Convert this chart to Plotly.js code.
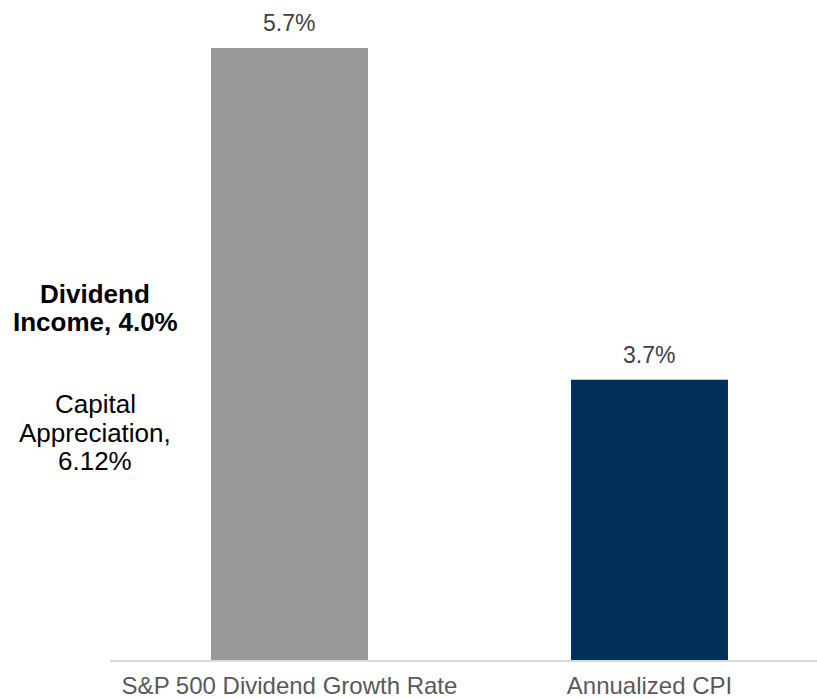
<!DOCTYPE html>
<html>
<head>
<meta charset="utf-8">
<script src="https://cdn.plot.ly/plotly-3.0.1.min.js"></script>
<style>
  html, body { margin: 0; padding: 0; background: #ffffff; }
  #chart { width: 817px; height: 698px; }
</style>
</head>
<body>
<div id="chart"></div>
<script>
// ---- data ----
const categories = ["S&P 500 Dividend Growth Rate", "Annualized CPI"];
const values = [5.7, 3.7];
const barColors = ["#98999b", "#00305a"];
const boldNoteLines = ["Dividend", "Income, 4.0%"];
const noteLines = ["Capital", "Appreciation,", "6.12%"];

// ---- layout helpers ----
const FONT = "Liberation Sans, Arial, sans-serif";
const plotTop = 30, plotBottom = 660, plotLeft = 110, plotRight = 817;
const plotH = plotBottom - plotTop, plotW = plotRight - plotLeft;
const px2paperY = py => (plotBottom - py) / plotH;
const px2paperX = px => (px - plotLeft) / plotW;

const trace = {
  type: "bar",
  x: categories,
  y: values,
  width: 0.436,
  marker: { color: barColors, line: { width: 0 } },
  hoverinfo: "skip",
  cliponaxis: true
};

const annotations = [];
// value labels above bars
categories.forEach((c, i) => {
  annotations.push({
    x: c, y: values[i], xref: "x", yref: "y",
    text: values[i].toFixed(1) + "%",
    showarrow: false, yanchor: "bottom", xanchor: "center", yshift: 10,
    font: { family: FONT, size: 23, color: "#404040" }
  });
});
// left side notes, one line each for tight line spacing
const boldCenters = [294, 322];
boldNoteLines.forEach((t, i) => {
  annotations.push({
    x: px2paperX(95), y: px2paperY(boldCenters[i]), xref: "paper", yref: "paper",
    text: "<b>" + t + "</b>", showarrow: false, xanchor: "center", yanchor: "middle",
    font: { family: FONT, size: 26, color: "#000000" }
  });
});
const noteCenters = [404, 433, 461];
noteLines.forEach((t, i) => {
  annotations.push({
    x: px2paperX(95), y: px2paperY(noteCenters[i]), xref: "paper", yref: "paper",
    text: t, showarrow: false, xanchor: "center", yanchor: "middle",
    font: { family: FONT, size: 26, color: "#000000" }
  });
});

const layout = {
  width: 817, height: 698,
  margin: { l: plotLeft, r: 817 - plotRight, t: plotTop, b: 698 - plotBottom, pad: 0 },
  paper_bgcolor: "#ffffff", plot_bgcolor: "#ffffff",
  showlegend: false,
  xaxis: {
    type: "category",
    range: [-0.4986, 1.4653],
    showgrid: false, zeroline: false,
    showline: true, linecolor: "#d9d9d9", linewidth: 2,
    ticks: "", ticklabelstandoff: 3,
    tickfont: { family: FONT, size: 24, color: "#595959" },
    fixedrange: true
  },
  yaxis: {
    range: [2.01, 5.809],
    visible: false, showgrid: false, zeroline: false,
    fixedrange: true
  },
  annotations: annotations
};

Plotly.newPlot("chart", [trace], layout, { displayModeBar: false, staticPlot: true });
</script>
</body>
</html>
